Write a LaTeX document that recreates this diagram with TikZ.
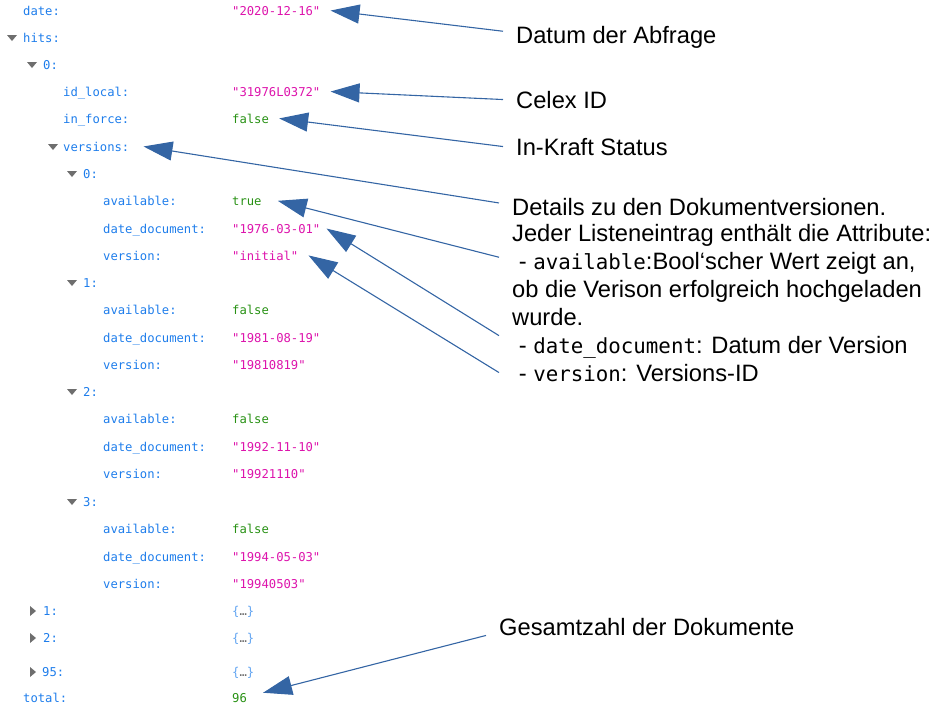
\documentclass[tikz,border=0pt]{standalone}
\usepackage{xcolor}
\usepackage{fontspec}
\setmainfont{Liberation Sans}
\newfontfamily\jsonfont{DejaVu Sans Mono}[Ligatures=TeXOff]
\usetikzlibrary{arrows.meta,calc}
\definecolor{jsonkey}{RGB}{30,125,235}
\definecolor{jsonstr}{RGB}{221,20,172}
\definecolor{jsonbool}{RGB}{40,145,20}
\definecolor{twistgray}{RGB}{110,110,110}
\definecolor{pointerblue}{RGB}{52,101,164}
\newcommand\jcode[1]{{\jsonfont\fontsize{20.8}{28}\selectfont #1}}
\newcommand\jfold{{\color{jsonkey!70}\{}{\color{twistgray}…}{\color{jsonkey!70}\}}}

\begin{document}
\begin{tikzpicture}[x=1pt,y=-1pt,
    jkey/.style={font=\jsonfont\fontsize{12.2}{14}\selectfont,text=jsonkey,inner sep=0pt,anchor=base west},
    jstr/.style={jkey,text=jsonstr},
    jbool/.style={jkey,text=jsonbool},
    note/.style={font=\fontsize{23.7}{28}\selectfont,inner ysep=0pt,inner xsep=13pt,anchor=base west},
    pointer/.style={draw=pointerblue,line width=1.1pt,-{Triangle[length=29pt,width=19pt]}}]
    \useasboundingbox (0,0) rectangle (938,718);

    % fold markers
    \foreach \x/\y in {7/38,27/65,48/147,67/174,67/283,67/392,67/502}
        \fill[twistgray] (\x,\y-3) -- ++(10,0) -- ++(-5,6) -- cycle;
    \foreach \y in {611,638,672}
        \fill[twistgray] (30,\y-5) -- ++(6,5) -- ++(-6,5) -- cycle;

    % json tree
    \node[jkey] (kdate) at (23,15) {date:};
    \node[jstr] (vdate) at (232,15) {"2020-12-16"};
    \node[jkey] (khits) at (23,42) {hits:};
    \node[jkey] (khit0) at (43,69) {0:};
    \node[jkey] (kid) at (63,96) {id\_local:};
    \node[jstr] (vid) at (232,96) {"31976L0372"};
    \node[jkey] (kforce) at (63,123) {in\_force:};
    \node[jbool] (vforce) at (232,123) {false};
    \node[jkey] (kvers) at (63,151) {versions:};
    \foreach \i/\y/\av/\dd/\vv in {0/174/true/1976-03-01/initial,
        1/283/false/1981-08-19/19810819,
        2/392/false/1992-11-10/19921110,
        3/502/false/1994-05-03/19940503}{
        \node[jkey] (kv\i) at (83,\y+4) {\i:};
        \node[jkey] (kav\i) at (103,\y+31) {available:};
        \node[jbool] (vav\i) at (232,\y+31) {\av};
        \node[jkey] (kdd\i) at (103,\y+59) {date\_document:};
        \node[jstr] (vdd\i) at (232,\y+59) {"\dd"};
        \node[jkey] (kver\i) at (103,\y+86) {version:};
        \node[jstr] (vver\i) at (232,\y+86) {"\vv"};
    }
    \node[jkey] (khit1) at (43,615) {1:};
    \node[jkey] (vhit1) at (232,615) {\jfold};
    \node[jkey] (khit2) at (43,642) {2:};
    \node[jkey] (vhit2) at (232,642) {\jfold};
    \node[jkey] (khit95) at (42,676) {95:};
    \node[jkey] (vhit95) at (232,676) {\jfold};
    \node[jkey] (ktotal) at (23,702) {total:};
    \node[jbool] (vtotal) at (232,702) {96};

    % notes
    \node[note] (ldate) at (503,43) {Datum der Abfrage};
    \node[note] (lcelex) at (503,108) {Celex ID};
    \node[note] (lforce) at (503,155) {In-Kraft Status};
    \node[note] (det1) at (499,215) {Details zu den Dokumentversionen.};
    \node[note] (det2) at (499,241) {Jeder Listeneintrag enthält die Attribute:};
    \node[note] (det3) at (499,269) {\ - \jcode{available}:Bool‘scher Wert zeigt an,};
    \node[note] (det4) at (499,297) {ob die Verison erfolgreich hochgeladen};
    \node[note] (det5) at (499,325) {wurde.};
    \node[note] (det6) at (499,353) {\ - \jcode{date\_document}: Datum der Version};
    \node[note] (det7) at (499,381) {\ - \jcode{version}: Versions-ID};
    \node[note] (ltotal) at (486,635) {Gesamtzahl der Dokumente};

    % pointers
    \draw[pointer] ($(ldate.west)!.5!(ldate.north west)$) -- ($(vdate.east)+(10,0)$);
    \draw[pointer] (lcelex.west) -- ($(vid.east)+(10,0)$);
    \draw[pointer] (lforce.west) -- ($(vforce.east)+(10,0)$);
    \draw[pointer] ($(det1.west)!.4!(det1.north west)$) -- ($(kvers.east)+(14,0)$);
    \draw[pointer] ($(det3.west)!.5!(det3.north west)$) -- ($(vav0.east)+(16,0)$);
    \draw[pointer] (det6.north west) -- ($(vdd0.east)+(6,0)$);
    \draw[pointer] (det7.west) -- ($(vver0.east)+(10,0)$);
    \draw[pointer] (ltotal.south west) -- ($(vtotal.north east)+(16,0)$);
\end{tikzpicture}
\end{document}
